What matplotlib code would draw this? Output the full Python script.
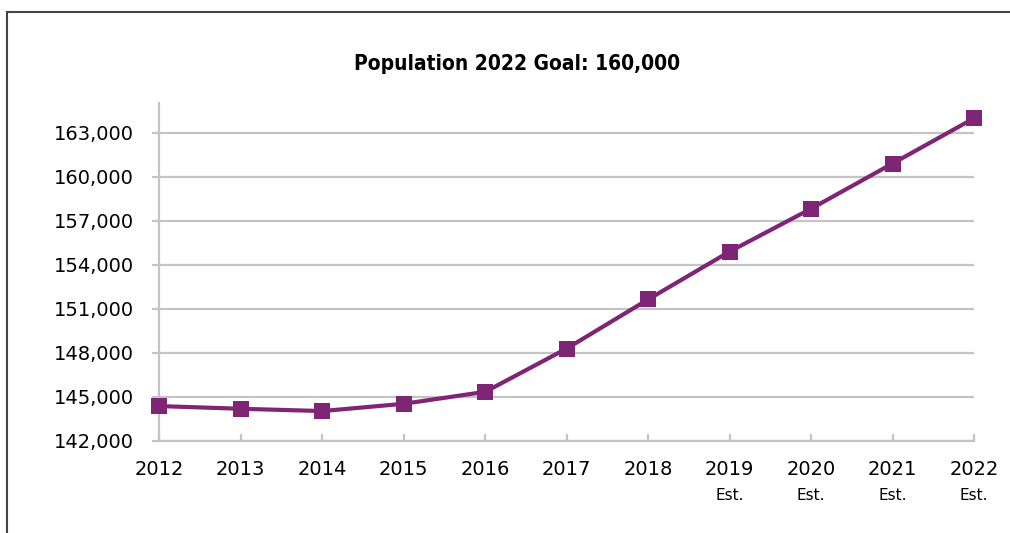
import matplotlib
matplotlib.use("Agg")
import matplotlib.pyplot as plt
from matplotlib.lines import Line2D
from matplotlib.ticker import FuncFormatter
import matplotlib.transforms as mtransforms

# Population by year (2019 onward are estimates)
years = ["2012", "2013", "2014", "2015", "2016", "2017", "2018", "2019", "2020", "2021", "2022"]
estimate = [False, False, False, False, False, False, False, True, True, True, True]
population = [144360, 144175, 144020, 144515, 145330, 148280, 151630, 154890, 157815, 160895, 163980]
y_ticks = [142000, 145000, 148000, 151000, 154000, 157000, 160000, 163000]

purple = "#7E2575"
grid_grey = "#C4C4C4"

fig = plt.figure(figsize=(10.10, 5.33), dpi=100)
ax = fig.add_axes([0.1577, 0.1732, 0.8067, 0.6330])

x = list(range(len(years)))
ax.plot(x, population, color=purple, linewidth=3.0, marker="s",
        markersize=12, markeredgewidth=0, zorder=3, clip_on=False)

ax.set_xlim(0, len(years) - 1)
ax.set_ylim(142000, 165000)

ax.set_yticks(y_ticks)
ax.yaxis.set_major_formatter(FuncFormatter(lambda v, p: f"{int(v):,}"))
ax.set_xticks(x)
ax.set_xticklabels(years)

for side in ("top", "right"):
    ax.spines[side].set_visible(False)
for side in ("left", "bottom"):
    ax.spines[side].set_color(grid_grey)
    ax.spines[side].set_linewidth(1.6)

ax.yaxis.grid(True, color=grid_grey, linewidth=1.6)
ax.set_axisbelow(True)

ax.tick_params(axis="y", direction="out", length=5, width=1.6, color=grid_grey,
               pad=13.5, labelsize=14, labelcolor="black")
ax.tick_params(axis="x", direction="in", length=5, width=1.6, color=grid_grey,
               pad=14, labelsize=14, labelcolor="black")

# "Est." note under projected years
trans = mtransforms.blended_transform_factory(ax.transData, fig.transFigure)
for xi, est in zip(x, estimate):
    if est:
        ax.text(xi, 1 - 495 / 533, "Est.", transform=trans, ha="center", va="center",
                fontsize=11, color="black")

title = fig.text(0.512, 1 - 64 / 533, "Population 2022 Goal: 160,000", ha="center",
                 va="center", fontsize=15, fontweight="bold", family="DejaVu Sans",
                 fontstretch="condensed")

# Chart frame
fig.add_artist(Line2D([7 / 1010, 1.0], [1 - 12 / 533, 1 - 12 / 533], transform=fig.transFigure,
                      color="#444444", linewidth=1.5))
fig.add_artist(Line2D([7 / 1010, 7 / 1010], [0.0, 1 - 12 / 533], transform=fig.transFigure,
                      color="#444444", linewidth=1.5))

fig.savefig("out.png", dpi=100)
